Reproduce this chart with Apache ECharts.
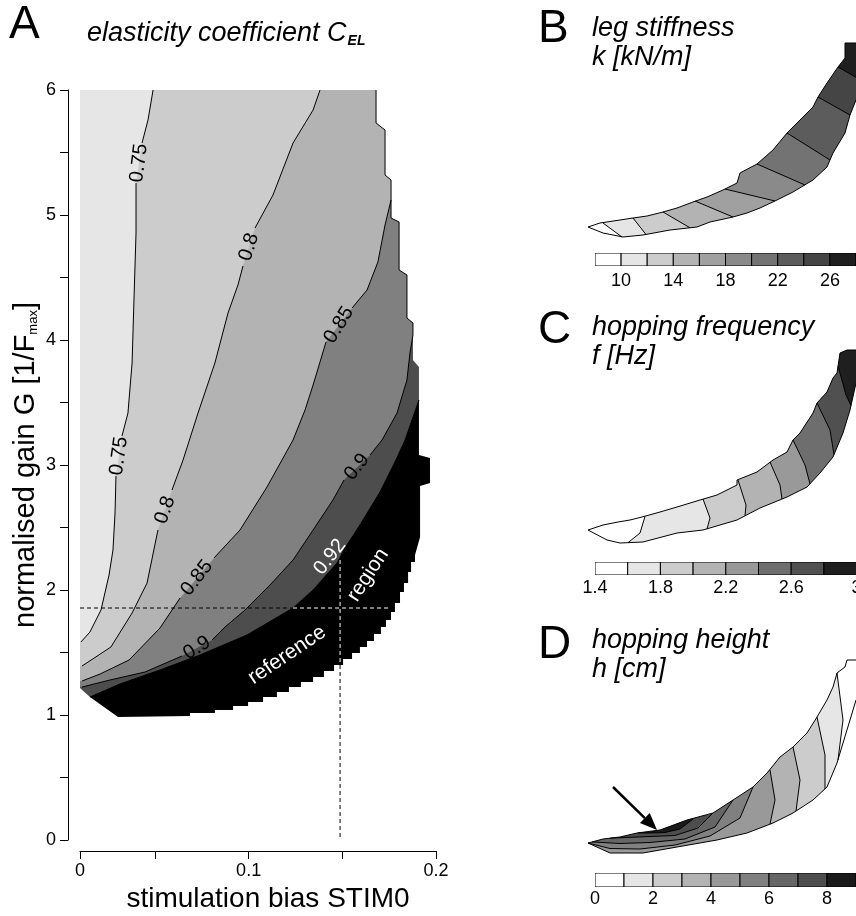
<!DOCTYPE html>
<html>
<head>
<meta charset="utf-8">
<script src="https://cdn.jsdelivr.net/npm/echarts@6/dist/echarts.min.js"></script>
<style>
html,body{margin:0;padding:0;background:#fff;}
#chart{width:856px;height:916px;}
</style>
</head>
<body>
<div id="chart"></div>
<script>
const FONT = '"Liberation Sans", Arial, Helvetica, sans-serif';

// ---------- Panel A: elasticity coefficient C_EL over (STIM0, G) ----------
const X_MIN = 0.01, X_MAX = 0.2;
const G_MIN = 0, G_MAX = 6, G_STEP = 0.5;
const X_TICKS = [0.01, 0.05, 0.1, 0.15, 0.2];
const X_TICK_LABELS = ['0', '', '0.1', '', '0.2'];

const CEL_LEVELS = [0.75, 0.8, 0.85, 0.9, 0.92];
const CEL_COLORS = ['#e6e6e6', '#cccccc', '#b3b3b3', '#808080', '#4d4d4d', '#000000'];

// edge of the simulated region (grid cells): right side (top to bottom), then lower side (right to left)
const DOMAIN_RIGHT = [[0.1680,6.0],[0.1680,5.736],[0.1728,5.68],[0.1728,5.32],[0.1760,5.28],[0.1760,4.976],
  [0.1803,4.944],[0.1803,4.56],[0.1845,4.52],[0.1845,4.176],[0.1877,4.136],[0.1877,3.84],[0.1909,3.784],
  [0.1909,3.08],[0.1968,3.056],[0.1968,2.856],[0.1915,2.832],[0.1915,2.424],[0.1888,2.28]];
const DOMAIN_BOTTOM = [[0.1888,2.224],[0.1867,2.224],[0.1867,2.144],[0.1851,2.144],[0.1851,2.056],[0.1829,2.056],
  [0.1829,1.984],[0.1808,1.984],[0.1808,1.896],[0.1781,1.896],[0.1781,1.824],[0.1760,1.824],[0.1760,1.76],
  [0.1733,1.76],[0.1733,1.704],[0.1706,1.704],[0.1706,1.648],[0.1669,1.648],[0.1669,1.592],[0.1632,1.592],
  [0.1632,1.544],[0.1594,1.544],[0.1594,1.496],[0.1552,1.496],[0.1552,1.448],[0.1504,1.448],[0.1504,1.4],
  [0.1456,1.4],[0.1456,1.352],[0.1402,1.352],[0.1402,1.304],[0.1344,1.304],[0.1344,1.264],[0.1279,1.264],
  [0.1279,1.224],[0.1215,1.224],[0.1215,1.184],[0.1151,1.184],[0.1151,1.144],[0.1077,1.144],[0.1077,1.104],
  [0.0997,1.104],[0.0997,1.072],[0.0917,1.072],[0.0917,1.04],[0.0820,1.04],[0.0820,1.016],[0.0687,1.016],
  [0.0687,0.992],[0.0303,0.984],[0.0153,1.144],[0.0100,1.216]];

// iso-lines (null = gap left for the inline label)
const CEL_075 = [[0.0490,6.0],[0.0463,5.76],[0.0431,5.576],null,[0.0399,5.256],[0.0399,4.856],[0.0388,4.32],
  [0.0378,3.816],[0.0356,3.416],[0.0324,3.232],null,[0.0292,2.912],[0.0287,2.616],[0.0276,2.32],[0.0255,2.12],
  [0.0212,1.84],[0.0153,1.664],[0.0105,1.584]];
const CEL_080 = [[0.1381,6.0],[0.1344,5.84],[0.1237,5.576],[0.1130,5.16],[0.1034,4.896],null,[0.0970,4.592],
  [0.0943,4.44],[0.0890,4.216],[0.0820,3.816],[0.0730,3.416],[0.0650,3.04],[0.0591,2.8],null,[0.0516,2.48],
  [0.0458,2.056],[0.0378,1.816],[0.0265,1.544],[0.0111,1.392]];
const CEL_085 = [[0.1760,5.12],[0.1728,4.92],[0.1690,4.624],[0.1632,4.4],[0.1552,4.256],null,[0.1413,3.984],
  [0.1344,3.64],[0.1301,3.44],[0.1237,3.2],[0.1098,2.824],[0.0954,2.48],[0.0815,2.256],null,[0.0634,1.936],
  [0.0527,1.696],[0.0362,1.44],[0.0207,1.328],[0.0111,1.272]];
const CEL_090 = [[0.1877,4.04],[0.1861,3.896],[0.1845,3.68],[0.1792,3.416],[0.1712,3.2],[0.1648,3.08],null,
  [0.1509,2.88],[0.1450,2.72],[0.1344,2.48],[0.1237,2.24],[0.1114,2.04],[0.0981,1.84],[0.0874,1.704],[0.0805,1.6],
  null,[0.0644,1.472],[0.0447,1.344],[0.0260,1.28],[0.0111,1.224]];
const CEL_092 = [[0.1909,3.52],[0.1872,3.36],[0.1835,3.2],[0.1781,3.024],[0.1701,2.784],[0.1594,2.52],
  [0.1514,2.336],[0.1472,2.216],[0.1344,2.0],[0.1237,1.856],[0.0991,1.64],[0.0740,1.48],[0.0527,1.36],
  [0.0313,1.248],[0.0153,1.144]];
const CEL_CONTOURS = [CEL_075, CEL_080, CEL_085, CEL_090, CEL_092];

// inline labels: text, STIM0, G, angle (deg), colour, size
const CEL_LABELS = [
  ['0.75', 0.0415, 5.416, 83, '#000', 20], ['0.75', 0.0308, 3.072, 82, '#000', 20],
  ['0.8', 0.1002, 4.744, 72, '#000', 20],  ['0.8', 0.0554, 2.64, 71, '#000', 20],
  ['0.85', 0.1482, 4.12, 58, '#000', 20],  ['0.85', 0.0724, 2.096, 52, '#000', 20],
  ['0.9', 0.1578, 2.984, 52, '#000', 20],  ['0.9', 0.0724, 1.536, 32, '#000', 20],
  ['0.92', 0.1434, 2.264, 52, '#fff', 20],
  ['reference', 0.1205, 1.48, 34, '#fff', 21], ['region', 0.1637, 2.12, 57, '#fff', 21]
];

// reference operating point (dashed guides)
const REF_STIM0 = 0.1488, REF_G = 1.856;
const REF_H_END = 0.1744, REF_H_SPLIT = 0.1237;
const REF_V_TOP = 2.24, REF_V_SPLIT = 1.4;

// ---------- Panels B-D: maps over the reference region (panel units) ----------
const B_UPPER = [[0.008,0.23],[0.020,0.27],[0.040,0.30],[0.053,0.32],[0.067,0.34],[0.083,0.38],[0.097,0.42],
  [0.113,0.48],[0.127,0.53],[0.143,0.60],[0.157,0.67],[0.160,0.77],[0.177,0.86],[0.193,1.00],[0.207,1.17],
  [0.220,1.30],[0.233,1.43],[0.238,1.53],[0.247,1.67],[0.258,1.83],[0.265,1.92],[0.265,2.07],[0.300,2.07]];
const B_LOWER = [[0.008,0.23],[0.023,0.17],[0.043,0.13],[0.063,0.15],[0.090,0.20],[0.117,0.23],[0.130,0.28],
  [0.153,0.33],[0.167,0.37],[0.180,0.42],[0.197,0.50],[0.213,0.58],[0.233,0.70],[0.247,0.83],[0.253,0.97],
  [0.265,1.17],[0.270,1.35],[0.276,1.50],[0.300,1.90]];
const B_LINES = [[[0.023,0.27],[0.042,0.13]], [[0.053,0.32],[0.066,0.155]], [[0.083,0.38],[0.110,0.222]],
  [[0.115,0.49],[0.153,0.33]], [[0.145,0.61],[0.195,0.49]], [[0.177,0.86],[0.225,0.65]],
  [[0.207,1.17],[0.250,0.90]], [[0.238,1.53],[0.270,1.35]], [[0.258,1.83],[0.286,1.67]]];
const B_SIDES = [1, 1, 1, 1, 1, 1, 1, 1, 1];
const B_LEVELS = [8, 10, 12, 14, 16, 18, 20, 22, 24, 26, 28, 30];
const B_TICKS = [10, 14, 18, 22, 26, 30];
const B_COLORS = ['#ffffff','#e5e5e5','#cccccc','#b3b3b3','#a0a0a0','#8a8a8a','#737373','#5c5c5c','#454545','#1f1f1f','#0a0a0a'];

const C_UPPER = [[0.008,0.20],[0.023,0.25],[0.038,0.28],[0.050,0.30],[0.062,0.33],[0.080,0.38],[0.097,0.43],
  [0.120,0.50],[0.137,0.55],[0.157,0.65],[0.157,0.70],[0.177,0.78],[0.193,0.90],[0.207,0.98],[0.213,1.10],
  [0.220,1.17],[0.233,1.37],[0.237,1.47],[0.247,1.58],[0.253,1.72],[0.257,1.77],[0.260,1.97],[0.267,2.00],[0.300,2.00]];
const C_LOWER = [[0.008,0.20],[0.027,0.10],[0.040,0.07],[0.063,0.08],[0.097,0.17],[0.123,0.20],[0.157,0.30],
  [0.180,0.42],[0.207,0.53],[0.227,0.63],[0.240,0.77],[0.253,0.93],[0.263,1.17],[0.270,1.40],[0.276,1.67],[0.300,1.90]];
const C_LINES = [[[0.065,0.335],[0.060,0.17],[0.048,0.073]], [[0.123,0.51],[0.130,0.32],[0.127,0.21]],
  [[0.158,0.70],[0.166,0.45],[0.165,0.34]], [[0.190,0.88],[0.200,0.65],[0.202,0.51]],
  [[0.213,1.10],[0.225,0.85],[0.230,0.66]], [[0.237,1.47],[0.250,1.20],[0.254,0.954]],
  [[0.258,1.84],[0.266,1.55],[0.271,1.445]]];
const C_SIDES = [1, 1, 1, 1, 1, 1, 1];
const C_LEVELS = [1.4, 1.6, 1.8, 2.0, 2.2, 2.4, 2.6, 2.8, 3.0];
const C_TICKS = [1.4, 1.8, 2.2, 2.6, 3.0];
const C_COLORS = ['#ffffff','#e6e6e6','#cccccc','#b3b3b3','#999999','#6e6e6e','#505050','#1f1f1f'];

const D_UPPER = [[0.008,0.17],[0.023,0.21],[0.040,0.23],[0.057,0.27],[0.080,0.30],[0.107,0.40],[0.133,0.47],
  [0.153,0.60],[0.173,0.73],[0.187,0.87],[0.200,1.03],[0.213,1.13],[0.227,1.27],[0.237,1.43],[0.247,1.60],
  [0.253,1.73],[0.257,1.87],[0.265,1.93],[0.267,2.00],[0.300,2.00]];
const D_LOWER = [[0.008,0.17],[0.030,0.07],[0.063,0.07],[0.097,0.13],[0.137,0.20],[0.167,0.27],[0.193,0.37],
  [0.213,0.47],[0.233,0.60],[0.247,0.73],[0.257,0.97],[0.263,1.17],[0.270,1.40],[0.276,1.60],[0.300,1.85]];
// levels 1-4 cross the band; levels 5-8 close back onto the upper edge
const D_LINES = [[[0.257,1.87],[0.263,1.40],[0.258,1.0]], [[0.237,1.43],[0.245,1.05],[0.245,0.71]],
  [[0.213,1.13],[0.220,0.80],[0.216,0.49]], [[0.190,0.90],[0.195,0.60],[0.190,0.358]],
  [[0.173,0.73],[0.160,0.42],[0.130,0.24],[0.095,0.15],[0.060,0.11],[0.030,0.115],[0.008,0.17]],
  [[0.153,0.60],[0.135,0.33],[0.105,0.21],[0.070,0.175],[0.040,0.165],[0.012,0.181]],
  [[0.133,0.47],[0.118,0.32],[0.095,0.245],[0.070,0.235],[0.045,0.225],[0.030,0.218]],
  [[0.113,0.41],[0.100,0.31],[0.085,0.275],[0.070,0.27],[0.058,0.271]]];
const D_SIDES = [-1, -1, -1, -1, 0, 0, 0, 0];
const D_LEVELS = [0, 1, 2, 3, 4, 5, 6, 7, 8, 9];
const D_TICKS = [0, 2, 4, 6, 8];
const D_COLORS = ['#ffffff','#e6e6e6','#cccccc','#b3b3b3','#999999','#808080','#666666','#4d4d4d','#1a1a1a'];
const D_ARROW = [[0.033,0.73],[0.077,0.30]];

// ---------- helpers ----------
function segments(arr) {
  const out = []; let cur = [];
  arr.forEach(p => { if (p === null) { if (cur.length) out.push(cur); cur = []; } else cur.push(p); });
  if (cur.length) out.push(cur);
  return out;
}
function polyEl(pts, fill) { return { type: 'polygon', shape: { points: pts }, style: { fill: fill, stroke: null } }; }
function lineEl(pts, stroke, w, dash) {
  return { type: 'polyline', shape: { points: pts }, style: { stroke: stroke, lineWidth: w, fill: null, lineDash: dash || null } };
}
function textEl(p, text, deg, color, size) {
  return { type: 'text', x: p[0], y: p[1], rotation: deg * Math.PI / 180,
    style: { text: text, x: 0, y: 0, fill: color, font: size + 'px ' + FONT,
      align: 'center', verticalAlign: 'middle', textAlign: 'center', textVerticalAlign: 'middle' } };
}
function custom(idx, build, z) {
  return { type: 'custom', coordinateSystem: 'cartesian2d', xAxisIndex: idx, yAxisIndex: idx, z: z || 2,
    clip: true, silent: true, animation: false, data: [[0, 0]],
    renderItem: (params, api) => ({ type: 'group', children: build(api) }) };
}

// high side of a C_EL iso-line, closed far outside the region (trimmed by the white surround)
function highSide(line) {
  const pts = line.filter(p => p !== null);
  const first = pts[0], last = pts[pts.length - 1];
  return pts.concat([[X_MIN - 0.02, last[1]], [X_MIN - 0.02, G_MIN - 1], [X_MAX + 0.1, G_MIN - 1], [X_MAX + 0.1, first[1]]]);
}

function buildA(api) {
  const c = p => api.coord(p);
  const kids = [];
  kids.push(polyEl([[X_MIN - 0.02, G_MIN - 1], [X_MAX + 0.1, G_MIN - 1], [X_MAX + 0.1, G_MAX + 1], [X_MIN - 0.02, G_MAX + 1]].map(c), CEL_COLORS[0]));
  CEL_CONTOURS.forEach((ct, i) => kids.push(polyEl(highSide(ct).map(c), CEL_COLORS[i + 1])));
  const lastB = DOMAIN_BOTTOM[DOMAIN_BOTTOM.length - 1];
  const outside = DOMAIN_RIGHT.concat(DOMAIN_BOTTOM, [[X_MIN - 0.02, lastB[1]], [X_MIN - 0.02, G_MIN - 1],
    [X_MAX + 0.1, G_MIN - 1], [X_MAX + 0.1, G_MAX + 1], [DOMAIN_RIGHT[0][0], G_MAX + 1]]);
  kids.push(polyEl(outside.map(c), '#ffffff'));
  CEL_CONTOURS.forEach(ct => segments(ct).forEach(s => kids.push(lineEl(s.map(c), '#000', 1))));
  const edge = DOMAIN_RIGHT.slice(0, 11).concat([CEL_090[0]]);
  kids.push(lineEl(edge.map(c), '#000', 1));
  const dash = [4, 3];
  kids.push(lineEl([[X_MIN, REF_G], [REF_H_SPLIT, REF_G]].map(c), '#000', 1, dash));
  kids.push(lineEl([[REF_H_SPLIT, REF_G], [REF_H_END, REF_G]].map(c), '#fff', 1, dash));
  kids.push(lineEl([[REF_STIM0, REF_V_TOP], [REF_STIM0, REF_V_SPLIT]].map(c), '#fff', 1, dash));
  kids.push(lineEl([[REF_STIM0, REF_V_SPLIT], [REF_STIM0, G_MIN]].map(c), '#000', 1, dash));
  CEL_LABELS.forEach(l => kids.push(textEl(c([l[1], l[2]]), l[0], l[3], l[4], l[5])));
  return kids;
}

// area on one side of an iso-line inside a crescent: side 1 = right, -1 = left, 0 = above (line closes on the upper edge)
function sideOf(P, side) {
  const s = [P[0][0], P[0][1] - 4000];
  const last = P[P.length - 1];
  if (side === 0) return [s].concat(P, [[last[0], last[1] - 4000]]);
  const e = [last[0], last[1] + 4000];
  const far = side > 0 ? 4000 : -4000;
  return [s].concat(P, [e, [far, e[1]], [far, s[1]]]);
}

function buildCrescent(upper, lower, lines, sides, colors, arrow) {
  return function (api) {
    const c = p => api.coord(p);
    const U = upper.map(c), L = lower.map(c);
    const kids = [];
    kids.push(polyEl([[-4000, -4000], [4000, -4000], [4000, 4000], [-4000, 4000]], colors[0]));
    lines.forEach((ln, i) => kids.push(polyEl(sideOf(ln.map(c), sides[i]), colors[i + 1])));
    const uL = U[U.length - 1], lL = L[L.length - 1];
    kids.push(polyEl(U.concat([[4000, uL[1]], [4000, -4000], [-4000, -4000], [-4000, U[0][1]]]), '#fff'));
    kids.push(polyEl(L.concat([[4000, lL[1]], [4000, 4000], [-4000, 4000], [-4000, L[0][1]]]), '#fff'));
    lines.forEach(ln => kids.push(lineEl(ln.map(c), '#000', 1)));
    kids.push(lineEl(U, '#000', 1));
    kids.push(lineEl(L, '#000', 1));
    if (arrow) {
      const a = c(arrow[0]), b = c(arrow[1]);
      const dx = b[0] - a[0], dy = b[1] - a[1], len = Math.hypot(dx, dy), ux = dx / len, uy = dy / len;
      const hl = 17, hw = 7;
      const base = [b[0] - ux * hl, b[1] - uy * hl];
      kids.push(lineEl([a, base], '#000', 2.5));
      kids.push(polyEl([b, [base[0] - uy * hw, base[1] + ux * hw], [base[0] + uy * hw, base[1] - ux * hw]], '#000'));
    }
    return kids;
  };
}

function buildBar(levels, colors) {
  return function (api) {
    const kids = [];
    for (let i = 0; i < levels.length - 1; i++) {
      const p0 = api.coord([levels[i], 1]), p1 = api.coord([levels[i + 1], 0]);
      kids.push({ type: 'rect', shape: { x: p0[0], y: p0[1], width: p1[0] - p0[0], height: p1[1] - p0[1] },
        style: { fill: colors[Math.min(i, colors.length - 1)], stroke: '#000', lineWidth: 1 } });
    }
    return kids;
  };
}

const hiddenAxis = (idx, min, max) => ({ gridIndex: idx, type: 'value', min: min, max: max, show: false });
const barX = (idx, levels, ticks, margin) => ({
  gridIndex: idx, type: 'value', min: levels[0], max: levels[levels.length - 1],
  axisLine: { show: false }, axisTick: { show: false }, splitLine: { show: false },
  axisLabel: { customValues: ticks, margin: margin, color: '#000', fontSize: 18, fontFamily: FONT,
    showMinLabel: true, showMaxLabel: true, hideOverlap: false }
});
const gridAt = (left, top, width, height) => ({ left: left, top: top, width: width, height: height, outerBoundsMode: 'none', containLabel: false });

const titleStyle = { fontSize: 27, fontStyle: 'italic', fontWeight: 'normal', fontFamily: FONT, color: '#000', lineHeight: 29 };
const letterStyle = { fontSize: 46, fontWeight: 'normal', fontFamily: FONT, color: '#000' };

const option = {
  backgroundColor: '#ffffff',
  animation: false,
  title: [
    { text: 'A', left: 9, top: 2, padding: 0, textStyle: letterStyle },
    { text: '{t|elasticity coefficient C}{s|EL}', left: 87, top: 19, padding: 0,
      textStyle: { rich: { t: titleStyle, s: { fontSize: 14, fontStyle: 'italic', fontFamily: FONT, color: '#000', verticalAlign: 'bottom', padding: [0, 0, 0, 1] } } } },
    { text: 'B', left: 538, top: 6, padding: 0, textStyle: letterStyle },
    { text: 'leg stiffness\nk [kN/m]', left: 592, top: 14, padding: 0, textStyle: titleStyle },
    { text: 'C', left: 538, top: 307, padding: 0, textStyle: letterStyle },
    { text: 'hopping frequency\nf [Hz]', left: 592, top: 313, padding: 0, textStyle: titleStyle },
    { text: 'D', left: 538, top: 622, padding: 0, textStyle: letterStyle },
    { text: 'hopping height\nh [cm]', left: 592, top: 626, padding: 0, textStyle: titleStyle }
  ],
  grid: [
    gridAt(80, 90, 356, 750),
    gridAt(580, 0, 300, 250),
    gridAt(595, 253, 287.1, 13),
    gridAt(580, 300, 300, 250),
    gridAt(595, 562, 261.6, 13),
    gridAt(580, 610, 300, 250),
    gridAt(595, 873, 261, 14)
  ],
  xAxis: [
    { gridIndex: 0, type: 'value', min: X_MIN, max: X_MAX, offset: 11,
      axisLine: { show: true, onZero: false, lineStyle: { color: '#000', width: 1 } },
      axisTick: { show: true, customValues: X_TICKS, length: 8, lineStyle: { color: '#000', width: 1 } },
      axisLabel: { customValues: X_TICKS.filter((v, i) => X_TICK_LABELS[i] !== ''),
        formatter: v => X_TICK_LABELS[X_TICKS.indexOf(v)], color: '#000', fontSize: 18, fontFamily: FONT, margin: 11 },
      splitLine: { show: false },
      name: 'stimulation bias STIM0', nameLocation: 'middle', nameGap: 30,
      nameTextStyle: { color: '#000', fontSize: 28, fontFamily: FONT, padding: [0, 0, 0, 20] } },
    hiddenAxis(1, 0, 0.3), barX(2, B_LEVELS, B_TICKS, 6),
    hiddenAxis(3, 0, 0.3), barX(4, C_LEVELS, C_TICKS, 4),
    hiddenAxis(5, 0, 0.3), barX(6, D_LEVELS, D_TICKS, 3)
  ],
  yAxis: [
    { gridIndex: 0, type: 'value', min: G_MIN, max: G_MAX, interval: G_STEP, offset: 12,
      axisLine: { show: true, onZero: false, lineStyle: { color: '#000', width: 1 } },
      axisTick: { show: true, length: 8, lineStyle: { color: '#000', width: 1 } },
      axisLabel: { formatter: v => (Number.isInteger(v) ? String(v) : ''), color: '#000', fontSize: 18, fontFamily: FONT, margin: 12 },
      splitLine: { show: false },
      name: '{n|normalised gain G [1/F}{s|max}{n|]}', nameLocation: 'middle', nameGap: 28, nameRotate: 90,
      nameTextStyle: { rich: { n: { color: '#000', fontSize: 29, fontFamily: FONT },
        s: { color: '#000', fontSize: 13, fontFamily: FONT, verticalAlign: 'bottom' } } } },
    hiddenAxis(1, 0, 2.5), hiddenAxis(2, 0, 1),
    hiddenAxis(3, 0, 2.5), hiddenAxis(4, 0, 1),
    hiddenAxis(5, 0, 2.5), hiddenAxis(6, 0, 1)
  ],
  series: [
    custom(0, buildA, 2),
    custom(1, buildCrescent(B_UPPER, B_LOWER, B_LINES, B_SIDES, B_COLORS), 2),
    custom(2, buildBar(B_LEVELS, B_COLORS), 2),
    custom(3, buildCrescent(C_UPPER, C_LOWER, C_LINES, C_SIDES, C_COLORS), 2),
    custom(4, buildBar(C_LEVELS, C_COLORS), 2),
    custom(5, buildCrescent(D_UPPER, D_LOWER, D_LINES, D_SIDES, D_COLORS, D_ARROW), 2),
    custom(6, buildBar(D_LEVELS, D_COLORS), 2)
  ]
};

const chart = echarts.init(document.getElementById('chart'), null, { renderer: 'canvas' });
chart.setOption(option);
</script>
</body>
</html>
